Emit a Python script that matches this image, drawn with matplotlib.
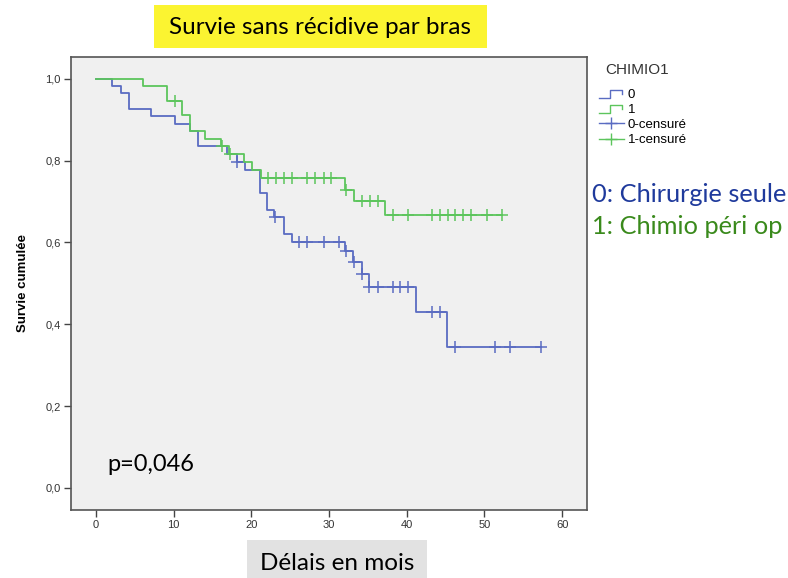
import numpy as np
import matplotlib
matplotlib.use("Agg")
import matplotlib.pyplot as plt
from matplotlib.patches import Rectangle
from matplotlib.lines import Line2D
from matplotlib.legend_handler import HandlerBase

# ---- data ----
blue_times = [0, 2.1, 3.2, 4.2, 7.1, 10.2, 12.1, 13.1, 16.9, 18.1, 19.2, 21.1, 22.0, 22.9, 24.2, 25.3, 32.1, 33.1, 34.2, 35.1, 41.2, 45.2]
blue_surv = [1.0, 0.982, 0.964, 0.927, 0.908, 0.890, 0.872, 0.835, 0.816, 0.797, 0.777, 0.720, 0.680, 0.661, 0.621, 0.601, 0.579, 0.551, 0.523, 0.492, 0.431, 0.345]
blue_cens = [18.2, 23.0, 26.2, 27.2, 29.3, 31.3, 32.2, 33.2, 34.3, 35.2, 36.3, 38.3, 39.2, 40.2, 43.2, 44.3, 46.2, 51.3, 53.3, 57.3]
blue_end = 57.3

green_times = [0, 6.1, 9.1, 11.1, 12.1, 14.1, 16.1, 17.1, 19.0, 20.1, 21.2, 32.1, 33.2, 37.2]
green_surv = [1.0, 0.982, 0.946, 0.911, 0.872, 0.853, 0.835, 0.816, 0.797, 0.777, 0.757, 0.729, 0.700, 0.667]
green_cens = [10.2, 16.2, 17.2, 22.2, 23.2, 24.2, 25.2, 27.2, 28.2, 29.3, 30.3, 32.2, 34.3, 35.3, 36.3, 38.3, 40.2, 43.2, 44.3, 45.3, 46.2, 47.3, 48.3, 50.3, 52.3]
green_end = 52.3

x_ticks = [0, 10, 20, 30, 40, 50, 60]
y_ticks = [0.0, 0.2, 0.4, 0.6, 0.8, 1.0]
y_ticklabels = ["0,0", "0,2", "0,4", "0,6", "0,8", "1,0"]
legend_labels = ["0", "1", "0-censuré", "1-censuré"]

BLUE = "#5a6cc2"
GREEN = "#5cc55c"

fig = plt.figure(figsize=(7.88, 5.78), dpi=100)
fig.patch.set_facecolor("white")
ax = fig.add_axes([71/788, 1-510/578, (587-71)/788, (510-57)/578])
ax.set_facecolor("#f0f0f0")


def draw_km(times, surv, cens, end, color):
    t = list(times) + [end]
    s = list(surv) + [surv[-1]]
    ax.step(t, s, where="post", color=color, lw=1.3, zorder=3)
    idx = np.searchsorted(np.array(times), np.array(cens), side="right") - 1
    cy = np.array(surv)[idx]
    ax.plot(cens, cy, linestyle="none", marker="+", ms=8, mew=1.1, color=color, zorder=4)


draw_km(blue_times, blue_surv, blue_cens, blue_end, BLUE)
draw_km(green_times, green_surv, green_cens, green_end, GREEN)

ax.set_xlim(-3.2, 63.2)
ax.set_ylim(-0.054, 1.053)
ax.set_xticks(x_ticks)
ax.set_xticklabels([str(v) for v in x_ticks])
ax.set_yticks(y_ticks)
ax.set_yticklabels(y_ticklabels)
ax.tick_params(axis="both", direction="out", length=5, width=1, colors="#444444",
               labelsize=8, labelcolor="#333333", pad=2.5)
for lab in ax.get_xticklabels() + ax.get_yticklabels():
    lab.set_family("Liberation Sans")
for sp in ax.spines.values():
    sp.set_color("#555555")
    sp.set_linewidth(1.2)

ax.set_ylabel("Survie cumulée", family="Liberation Sans", fontsize=9.5, fontweight="bold", labelpad=12)

ax.text(0.07, 0.085, "p=0,046", transform=ax.transAxes, fontsize=17, family="Lato", color="black")

# title box
fig.patches.append(Rectangle((154/788, 1-48/578), (487-154)/788, 43/578, transform=fig.transFigure,
                             facecolor="#fbf431", edgecolor="none", zorder=0))
fig.text(320/788, 1-28/578, "Survie sans récidive par bras", ha="center", va="center",
         fontsize=17.5, family="Lato", color="black")

# x label box
fig.patches.append(Rectangle((247/788, 0), (427-247)/788, 38/578, transform=fig.transFigure,
                             facecolor="#e2e2e2", edgecolor="none", zorder=0))
fig.text(337/788, 1-563/578, "Délais en mois", ha="center", va="center",
         fontsize=17.5, family="Lato", color="black")


class StepHandler(HandlerBase):
    def create_artists(self, legend, orig_handle, xdescent, ydescent, width, height, fontsize, trans):
        x0, y0 = -xdescent, -ydescent
        xs = [x0, x0 + width * 0.45, x0 + width * 0.45, x0 + width * 0.95, x0 + width * 0.95]
        ys = [y0, y0, y0 + height * 0.9, y0 + height * 0.9, y0 + height * 0.45]
        ln = Line2D(xs, ys, color=orig_handle.get_color(), lw=1.0, transform=trans)
        return [ln]


h0 = Line2D([], [], color=BLUE)
h1 = Line2D([], [], color=GREEN)
h2 = Line2D([], [], color=BLUE, marker="+", ms=8, lw=1.0)
h3 = Line2D([], [], color=GREEN, marker="+", ms=8, lw=1.0)
leg = fig.legend([h0, h1, h2, h3], legend_labels, loc="upper left",
                 bbox_to_anchor=(592/788, 1-82/578), frameon=False,
                 prop={"family": "Liberation Sans", "size": 9.5},
                 handlelength=1.9, handletextpad=0.3, labelspacing=0.22, borderpad=0,
                 numpoints=1, handler_map={h0: StepHandler(), h1: StepHandler()})
fig.text(605/788, 1-70/578, "CHIMIO1", fontsize=11, family="Liberation Sans", color="#333333",
         ha="left", va="center")

fig.text(592/788, 1-194/578, "0: Chirurgie seule", fontsize=18.3, family="Lato", color="#1f3a9c",
         ha="left", va="center")
fig.text(592/788, 1-226/578, "1: Chimio péri op", fontsize=18.3, family="Lato", color="#3a8a1c",
         ha="left", va="center")

fig.savefig("out.png", dpi=100)
